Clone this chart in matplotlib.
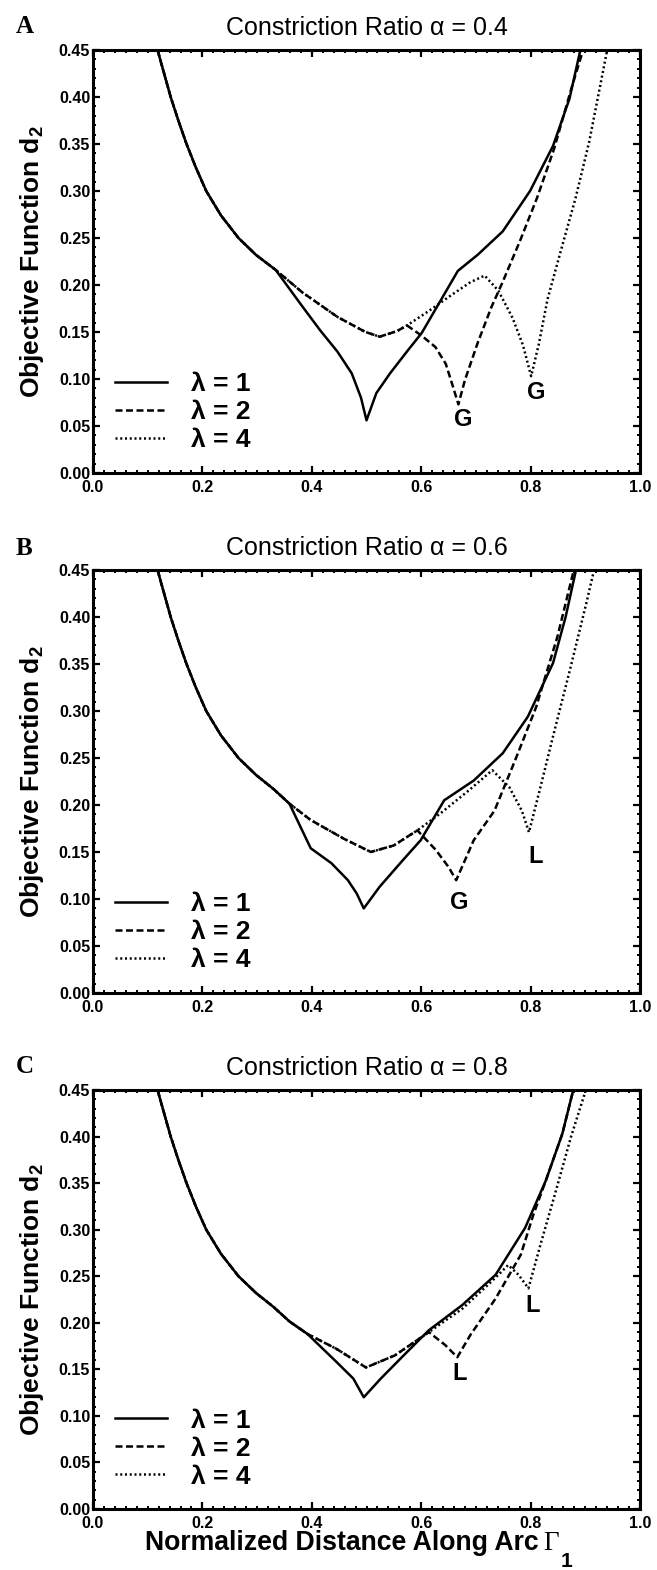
import matplotlib
matplotlib.use("Agg")
import matplotlib.pyplot as plt
from matplotlib.lines import Line2D
from matplotlib.ticker import MultipleLocator

plt.rcParams['font.family'] = ['Liberation Sans', 'DejaVu Sans']
plt.rcParams['mathtext.fontset'] = 'custom'
plt.rcParams['mathtext.rm'] = 'Liberation Sans'
plt.rcParams['mathtext.bf'] = 'Liberation Sans:bold'
plt.rcParams['mathtext.default'] = 'bf'

# =========================
# DATA
# =========================

lambdas = [1, 2, 4]
alphas = [0.4, 0.6, 0.8]
panel_letters = ["A", "B", "C"]

# ----- panel A, alpha = 0.4 -----
a_solid_x = [0.118, 0.130, 0.142, 0.156, 0.171, 0.188, 0.207, 0.234, 0.266, 0.298, 0.334, 0.383, 0.415,
             0.447, 0.473, 0.490, 0.500, 0.518, 0.543, 0.575, 0.601, 0.637, 0.667, 0.703, 0.749, 0.799,
             0.841, 0.871, 0.891]
a_solid_y = [0.450, 0.425, 0.400, 0.375, 0.350, 0.325, 0.300, 0.274, 0.250, 0.232, 0.216, 0.177, 0.152,
             0.129, 0.106, 0.080, 0.056, 0.085, 0.106, 0.130, 0.149, 0.185, 0.215, 0.232, 0.257, 0.300,
             0.348, 0.398, 0.450]

a_dash_x = [0.118, 0.130, 0.142, 0.156, 0.171, 0.188, 0.207, 0.234, 0.266, 0.298, 0.334, 0.383, 0.447,
            0.498, 0.524, 0.556, 0.574, 0.601, 0.626, 0.645, 0.658, 0.668, 0.680, 0.703, 0.728, 0.748,
            0.780, 0.812, 0.843, 0.875, 0.896]
a_dash_y = [0.450, 0.425, 0.400, 0.375, 0.350, 0.325, 0.300, 0.274, 0.250, 0.232, 0.216, 0.192, 0.166,
            0.150, 0.145, 0.151, 0.157, 0.146, 0.134, 0.116, 0.092, 0.073, 0.099, 0.138, 0.176, 0.202,
            0.246, 0.293, 0.345, 0.410, 0.450]

a_dot_x = [0.118, 0.130, 0.142, 0.156, 0.171, 0.188, 0.207, 0.234, 0.266, 0.298, 0.334, 0.383, 0.447,
           0.498, 0.524, 0.556, 0.574, 0.613, 0.652, 0.690, 0.716, 0.741, 0.767, 0.786, 0.801, 0.815,
           0.831, 0.856, 0.882, 0.907, 0.940]
a_dot_y = [0.450, 0.425, 0.400, 0.375, 0.350, 0.325, 0.300, 0.274, 0.250, 0.232, 0.216, 0.192, 0.166,
           0.150, 0.145, 0.151, 0.157, 0.172, 0.188, 0.203, 0.210, 0.194, 0.165, 0.136, 0.103, 0.137,
           0.185, 0.238, 0.292, 0.352, 0.450]

a_marks = ["G", "G"]
a_mark_x = [0.676, 0.811]
a_mark_y = [0.057, 0.086]

# ----- panel B, alpha = 0.6 -----
b_solid_x = [0.118, 0.130, 0.142, 0.156, 0.171, 0.188, 0.207, 0.234, 0.266, 0.298, 0.330, 0.359, 0.398,
             0.436, 0.466, 0.482, 0.495, 0.524, 0.566, 0.599, 0.642, 0.696, 0.749, 0.795, 0.841, 0.864,
             0.883]
b_solid_y = [0.450, 0.425, 0.400, 0.375, 0.350, 0.325, 0.300, 0.274, 0.250, 0.232, 0.217, 0.2015, 0.154,
             0.138, 0.120, 0.106, 0.090, 0.113, 0.141, 0.1625, 0.205, 0.226, 0.255, 0.294, 0.351, 0.400,
             0.450]

b_dash_x = [0.118, 0.130, 0.142, 0.156, 0.171, 0.188, 0.207, 0.234, 0.266, 0.298, 0.330, 0.359, 0.398,
            0.459, 0.508, 0.550, 0.593, 0.627, 0.650, 0.664, 0.696, 0.734, 0.772, 0.810, 0.849, 0.879]
b_dash_y = [0.450, 0.425, 0.400, 0.375, 0.350, 0.325, 0.300, 0.274, 0.250, 0.232, 0.217, 0.2015, 0.184,
            0.164, 0.150, 0.157, 0.173, 0.152, 0.134, 0.120, 0.1625, 0.194, 0.248, 0.304, 0.379, 0.450]

b_dot_x = [0.118, 0.130, 0.142, 0.156, 0.171, 0.188, 0.207, 0.234, 0.266, 0.298, 0.330, 0.359, 0.398,
           0.459, 0.508, 0.550, 0.593, 0.635, 0.688, 0.730, 0.761, 0.784, 0.797, 0.818, 0.841, 0.872,
           0.902, 0.916]
b_dot_y = [0.450, 0.425, 0.400, 0.375, 0.350, 0.325, 0.300, 0.274, 0.250, 0.232, 0.217, 0.2015, 0.184,
           0.164, 0.150, 0.157, 0.173, 0.191, 0.216, 0.237, 0.219, 0.194, 0.171, 0.219, 0.273, 0.344,
           0.415, 0.450]

b_marks = ["G", "L"]
b_mark_x = [0.670, 0.810]
b_mark_y = [0.096, 0.145]

# ----- panel C, alpha = 0.8 -----
c_solid_x = [0.118, 0.130, 0.142, 0.156, 0.171, 0.188, 0.207, 0.234, 0.266, 0.298, 0.330, 0.359, 0.392,
             0.445, 0.476, 0.495, 0.526, 0.568, 0.614, 0.675, 0.736, 0.790, 0.828, 0.858, 0.878]
c_solid_y = [0.450, 0.425, 0.400, 0.375, 0.350, 0.325, 0.300, 0.274, 0.250, 0.232, 0.217, 0.2015, 0.188,
             0.158, 0.140, 0.120, 0.140, 0.165, 0.192, 0.219, 0.2515, 0.302, 0.353, 0.403, 0.450]

c_dash_x = [0.118, 0.130, 0.142, 0.156, 0.171, 0.188, 0.207, 0.234, 0.266, 0.298, 0.330, 0.359, 0.392,
            0.445, 0.499, 0.552, 0.614, 0.644, 0.666, 0.690, 0.736, 0.782, 0.805, 0.828, 0.858, 0.878]
c_dash_y = [0.450, 0.425, 0.400, 0.375, 0.350, 0.325, 0.300, 0.274, 0.250, 0.232, 0.217, 0.2015, 0.188,
            0.172, 0.152, 0.165, 0.190, 0.176, 0.163, 0.187, 0.226, 0.273, 0.316, 0.353, 0.403, 0.450]

c_dot_x = [0.118, 0.130, 0.142, 0.156, 0.171, 0.188, 0.207, 0.234, 0.266, 0.298, 0.330, 0.359, 0.392,
           0.445, 0.499, 0.552, 0.614, 0.675, 0.728, 0.759, 0.778, 0.796, 0.820, 0.843, 0.874, 0.901]
c_dot_y = [0.450, 0.425, 0.400, 0.375, 0.350, 0.325, 0.300, 0.274, 0.250, 0.232, 0.217, 0.2015, 0.188,
           0.172, 0.152, 0.165, 0.190, 0.215, 0.244, 0.262, 0.2515, 0.237, 0.288, 0.335, 0.400, 0.450]

c_marks = ["L", "L"]
c_mark_x = [0.670, 0.804]
c_mark_y = [0.1455, 0.219]

# =========================
# STYLE
# =========================

W, H = 657, 1570
LW = 1.8
DASH = (2.8, 1.4)
DOT = (0.8, 1.1)
TICK_FS = 11.5

fig = plt.figure(figsize=(W / 100, H / 100), dpi=100)


def make_axes(top, bottom, left=93, right=640):
    return fig.add_axes([left / W, 1 - bottom / H, (right - left) / W, (bottom - top) / H])


panels = [
    (make_axes(50, 473), a_solid_x, a_solid_y, a_dash_x, a_dash_y, a_dot_x, a_dot_y,
     a_marks, a_mark_x, a_mark_y, 33),
    (make_axes(570, 993), b_solid_x, b_solid_y, b_dash_x, b_dash_y, b_dot_x, b_dot_y,
     b_marks, b_mark_x, b_mark_y, 555),
    (make_axes(1090, 1509), c_solid_x, c_solid_y, c_dash_x, c_dash_y, c_dot_x, c_dot_y,
     c_marks, c_mark_x, c_mark_y, 1073),
]

for k, (ax, sx, sy, dx, dy, ox, oy, marks, mx, my, letter_y) in enumerate(panels):

    ax.plot(sx, sy, color="black", lw=LW)
    ax.plot(dx, dy, color="black", lw=LW, dashes=DASH)
    ax.plot(ox, oy, color="black", lw=LW, dashes=DOT)

    for m, x, y in zip(marks, mx, my):
        ax.text(x, y, m, ha="center", va="center", fontsize=17, fontweight="bold")

    ax.set_xlim(0, 1)
    ax.set_ylim(0, 0.45)

    ax.xaxis.set_major_locator(MultipleLocator(0.2))
    ax.xaxis.set_minor_locator(MultipleLocator(0.02))
    ax.yaxis.set_major_locator(MultipleLocator(0.05))
    ax.yaxis.set_minor_locator(MultipleLocator(0.01))
    ax.xaxis.set_major_formatter(lambda v, p: f"{v:.1f}")
    ax.yaxis.set_major_formatter(lambda v, p: f"{v:.2f}")

    ax.tick_params(which="both", direction="in", top=True, right=True)
    ax.tick_params(which="major", length=5, width=1.6, labelsize=TICK_FS)
    ax.tick_params(axis="x", which="major", pad=5)
    ax.tick_params(axis="y", which="major", pad=2)
    ax.tick_params(which="minor", length=2.5, width=1.4)
    for lab in ax.get_xticklabels() + ax.get_yticklabels():
        lab.set_fontweight("bold")

    for sp in ax.spines.values():
        sp.set_linewidth(2.2)

    ax.set_title(f"Constriction Ratio α = {alphas[k]}", fontsize=18, pad=10.5)

    ax.set_ylabel("Objective Function d$_2$", fontsize=19, fontweight="bold")
    ax.yaxis.set_label_coords(-0.086, 0.5)

    handles = [
        Line2D([], [], color="black", lw=LW),
        Line2D([], [], color="black", lw=LW, dashes=DASH),
        Line2D([], [], color="black", lw=LW, dashes=DOT),
    ]
    ax.legend(handles, [f"λ = {l}" for l in lambdas], loc="center left",
              bbox_to_anchor=(0.040, 0.144), frameon=False, borderpad=0, borderaxespad=0,
              handlelength=1.97, handletextpad=0.9, labelspacing=0.15,
              prop={"size": 19, "weight": "bold"})

    fig.text(16 / W, 1 - letter_y / H, panel_letters[k], fontsize=18, fontweight="bold",
             family="Liberation Serif", ha="left", va="baseline")

# x axis label, only on the bottom panel (Gamma in a serif face, subscript set low)
ax = panels[-1][0]
x0, base = 93, 1509


def px_to_axes(px, py):
    return (px - x0) / 547, (base - py) / 419


tx, ty = px_to_axes(539, 1550)
ax.text(tx, ty, "Normalized Distance Along Arc", transform=ax.transAxes,
        ha="right", va="baseline", fontsize=19.2, fontweight="bold")
tx, ty = px_to_axes(543, 1550)
ax.text(tx, ty, "Γ", transform=ax.transAxes, ha="left", va="baseline",
        fontsize=19.5, family="Liberation Serif")
tx, ty = px_to_axes(561, 1567)
ax.text(tx, ty, "1", transform=ax.transAxes, ha="left", va="baseline",
        fontsize=15, fontweight="bold")

fig.savefig("out.png", dpi=100)
